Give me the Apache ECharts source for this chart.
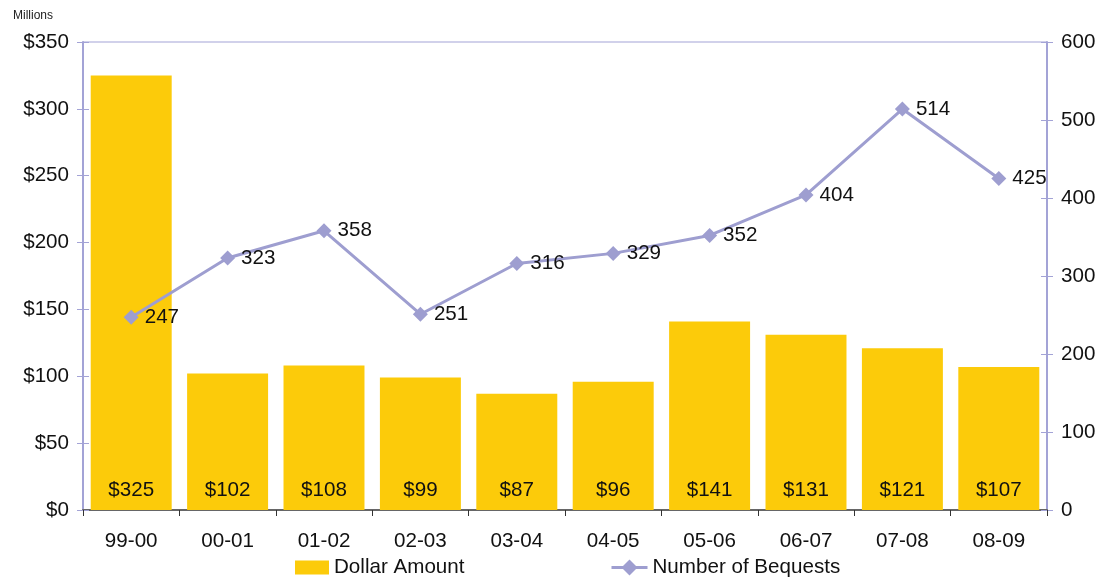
<!DOCTYPE html>
<html><head><meta charset="utf-8">
<script src="https://cdn.jsdelivr.net/npm/echarts@6/dist/echarts.min.js"></script>
<style>html,body{margin:0;padding:0;background:#fff}#c{width:1104px;height:578px}</style>
</head><body><div id="c"></div>
<script>
const categories = ['99-00','00-01','01-02','02-03','03-04','04-05','05-06','06-07','07-08','08-09'];
const dollarAmount = [325,102,108,99,87,96,141,131,121,107];
const numberOfBequests = [247,323,358,251,316,329,352,404,514,425];
const leftTicks = {min:0, max:350, interval:50};
const rightTicks = {min:0, max:600, interval:100};

const FONT = 'Liberation Sans, Arial, sans-serif';
const FS = 20.6;
const AXIS_PURPLE = '#A3A3D6';
const LINE_COLOR = '#9E9ED0';
const chart = echarts.init(document.getElementById('c'), null, {renderer:'canvas'});
chart.setOption({
  animation:false,
  textStyle:{fontFamily:FONT},
  title:{text:'Millions', left:8, top:5, textStyle:{fontSize:12, fontWeight:'normal', color:'#222', fontFamily:FONT}},
  grid:{left:83, right:57, top:42, bottom:68, show:true, borderColor:AXIS_PURPLE, borderWidth:1, backgroundColor:'transparent'},
  legend:[
    {top:557, left:295, padding:0, itemWidth:34, itemHeight:14, itemGap:5,
      textStyle:{fontSize:FS, color:'#111', fontFamily:FONT},
      data:[{name:'Dollar Amount', icon:'rect'}]},
    {top:557, left:610, padding:0, itemWidth:36, itemHeight:20, itemGap:3,
      textStyle:{fontSize:FS, color:'#111', fontFamily:FONT},
      data:[{name:'Number of Bequests', lineStyle:{width:3, color:LINE_COLOR}}]}
  ],
  xAxis:{type:'category', data:categories,
    axisLine:{lineStyle:{color:'#666', width:2}},
    axisTick:{show:true, length:6, lineStyle:{color:'#333'}},
    axisLabel:{fontSize:FS, color:'#111', margin:21, fontFamily:FONT}},
  yAxis:[
    {type:'value', min:leftTicks.min, max:leftTicks.max, interval:leftTicks.interval, position:'left',
      axisLine:{show:true, lineStyle:{color:AXIS_PURPLE, width:2}},
      axisTick:{show:true, length:6, lineStyle:{color:AXIS_PURPLE}},
      splitLine:{show:false},
      axisLabel:{fontSize:FS, color:'#111', margin:14, fontFamily:FONT, formatter:v=>'$'+v}},
    {type:'value', min:rightTicks.min, max:rightTicks.max, interval:rightTicks.interval, position:'right',
      axisLine:{show:true, lineStyle:{color:AXIS_PURPLE, width:2}},
      axisTick:{show:true, length:6, lineStyle:{color:AXIS_PURPLE}},
      splitLine:{show:false},
      axisLabel:{fontSize:FS, color:'#111', margin:14, fontFamily:FONT}},
    {type:'value', min:leftTicks.min, max:leftTicks.max, interval:leftTicks.interval, position:'left',
      axisLine:{show:false}, axisTick:{show:true, inside:true, length:6, lineStyle:{color:AXIS_PURPLE}},
      axisLabel:{show:false}, splitLine:{show:false}},
    {type:'value', min:rightTicks.min, max:rightTicks.max, interval:rightTicks.interval, position:'right',
      axisLine:{show:false}, axisTick:{show:true, inside:true, length:6, lineStyle:{color:AXIS_PURPLE}},
      axisLabel:{show:false}, splitLine:{show:false}}
  ],
  series:[
    {name:'Dollar Amount', type:'bar', yAxisIndex:0, data:dollarAmount, barCategoryGap:'16%',
      itemStyle:{color:'#FCCB0A'},
      label:{show:true, position:'insideBottom', distance:9, fontSize:FS, color:'#111', fontFamily:FONT, formatter:p=>'$'+p.value}},
    {name:'Number of Bequests', type:'line', yAxisIndex:1, data:numberOfBequests,
      symbol:'diamond', symbolSize:15,
      lineStyle:{color:LINE_COLOR, width:3}, itemStyle:{color:LINE_COLOR},
      label:{show:true, position:'right', distance:6, fontSize:FS, color:'#111', fontFamily:FONT}}
  ]
});
</script></body></html>
